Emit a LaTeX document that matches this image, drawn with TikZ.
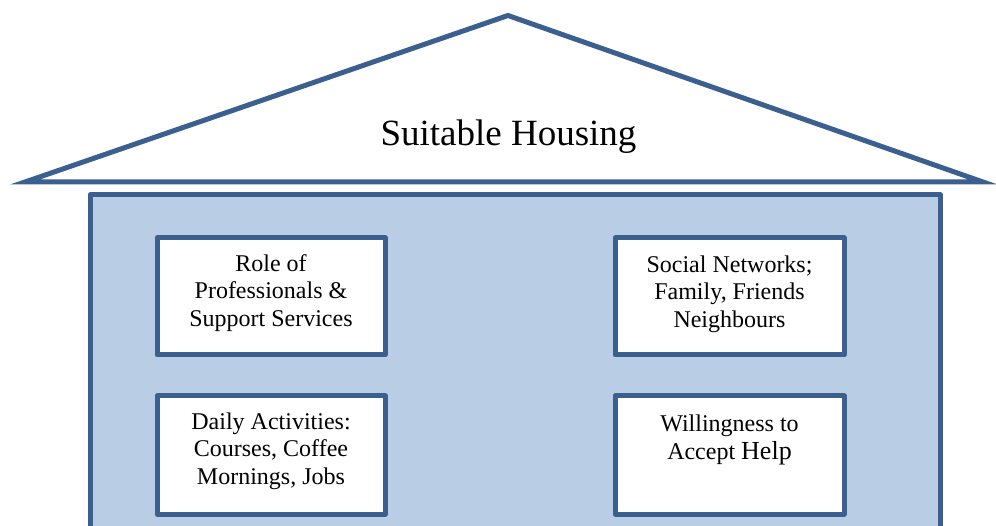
\documentclass[tikz,border=0pt]{standalone}
\usepackage{fontspec}
\setmainfont{Liberation Serif}
\definecolor{edgeblue}{HTML}{3B5F8E}
\definecolor{wallblue}{HTML}{B9CDE5}
\tikzset{
  outline/.style={draw=edgeblue, line width=5pt},
  factorbox/.style={outline, fill=white, line join=round},
  factortext/.style={align=center, font=\fontsize{24}{27.5}\selectfont, inner sep=0pt},
}
\begin{document}
\begin{tikzpicture}[x=1pt,y=-1pt]
\useasboundingbox (0,0) rectangle (996,526);
\clip (0,0) rectangle (996,526);
% roof
\coordinate (apex) at (508,15.5);
\coordinate (eaveL) at (25,182);
\coordinate (eaveR) at (983,182);
\draw[outline, fill=white] (eaveL) -- (apex) -- (eaveR) -- cycle;
\node[font=\fontsize{37}{40}\selectfont, inner sep=0pt] (title) at (508.5,137) {Suitable Housing};
% wall
\draw[outline, fill=wallblue, line join=round] (90,195) rectangle (940,560);
% boxes
\draw[factorbox] (157,238) rectangle (385,355);
\draw[factorbox] (615,238) rectangle (844,355);
\draw[factorbox] (157,396) rectangle (385,514);
\draw[factorbox] (615,396) rectangle (844,514);
\node[factortext] (role) at (271,293) {Role of\\Professionals \&\\Support Services};
\node[factortext] (social) at (729.5,294) {Social Networks;\\Family, Friends\\Neighbours};
\node[factortext] (daily) at (271,451) {Daily Activities:\\Courses, Coffee\\Mornings, Jobs};
\node[factortext] (willing) at (729.5,440) {Willingness to\\Accept {\fontsize{26}{28}\selectfont Help}};
\end{tikzpicture}
\end{document}
